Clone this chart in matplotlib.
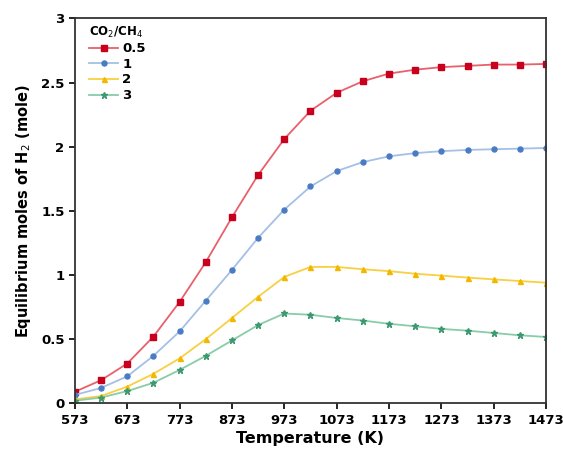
import numpy as np
import matplotlib.pyplot as plt

# 温度 (K)，每 50 K 一个点
temperature = [573, 623, 673, 723, 773, 823, 873, 923, 973, 1023,
               1073, 1123, 1173, 1223, 1273, 1323, 1373, 1423, 1473]

# CO2/CH4 比例对应的平衡 H2 摩尔数
h2_ratio_05 = [0.09, 0.18, 0.31, 0.52, 0.79, 1.10, 1.45, 1.78, 2.06, 2.28,
               2.42, 2.51, 2.57, 2.60, 2.62, 2.63, 2.64, 2.64, 2.645]
h2_ratio_1 = [0.065, 0.12, 0.21, 0.37, 0.56, 0.80, 1.04, 1.29, 1.51, 1.69,
              1.81, 1.88, 1.925, 1.95, 1.965, 1.975, 1.98, 1.985, 1.99]
h2_ratio_2 = [0.03, 0.057, 0.13, 0.23, 0.35, 0.50, 0.665, 0.83, 0.985, 1.063,
              1.063, 1.045, 1.03, 1.01, 0.995, 0.98, 0.966, 0.953, 0.94]
h2_ratio_3 = [0.02, 0.045, 0.095, 0.16, 0.26, 0.37, 0.49, 0.61, 0.70, 0.69,
              0.665, 0.645, 0.62, 0.60, 0.58, 0.566, 0.548, 0.53, 0.517]

series_labels = ["0.5", "1", "2", "3"]
x_ticks = np.arange(573, 1474, 100)
y_ticks = [0, 0.5, 1, 1.5, 2, 2.5, 3]

plt.rcParams['font.family'] = ['DejaVu Sans']

fig = plt.figure(figsize=(5.63, 4.55), dpi=100)
ax = fig.add_axes([0.133, 0.1136, 0.837, 0.846])

# 每条曲线：(数据, 线色, 标记色, 标记形状, 标记大小)
styles = [
    (h2_ratio_05, "#e8606c", "#c8001e", "s", 4.2),
    (h2_ratio_1, "#a4c0e6", "#4a7cc4", "o", 3.6),
    (h2_ratio_2, "#f8d040", "#f2b800", "^", 3.6),
    (h2_ratio_3, "#88ccaa", "#3c9a70", "*", 4.5),
]
for (ys, lc, mc, mk, ms), lab in zip(styles, series_labels):
    ax.plot(temperature, ys, color=lc, lw=1.3, marker=mk, ms=ms,
            mfc=mc, mec=mc, label=lab)

ax.set_xlim(573, 1473)
ax.set_ylim(0, 3)
ax.set_xticks(x_ticks)
ax.set_yticks(y_ticks)
ax.set_yticklabels(["0", "0.5", "1", "1.5", "2", "2.5", "3"])
ax.tick_params(direction="out", length=4, width=1.2, labelsize=9.5)
for lbl in ax.get_xticklabels() + ax.get_yticklabels():
    lbl.set_fontweight("bold")
for sp in ax.spines.values():
    sp.set_linewidth(1.3)
    sp.set_color("#333333")

ax.set_xlabel("Temperature (K)", fontsize=11.5, fontweight="bold", labelpad=3)
ax.set_ylabel("Equilibrium moles of H$_2$ (mole)", fontsize=10.5,
              fontweight="bold", labelpad=6)

leg = ax.legend(title="CO$_2$/CH$_4$", loc="upper left", frameon=False,
                fontsize=9.5, title_fontsize=8.5, handlelength=2.2,
                handletextpad=0.3, labelspacing=0.2,
                bbox_to_anchor=(0.005, 1.015))
leg._legend_box.align = "left"
for t in leg.get_texts():
    t.set_fontweight("bold")
leg.get_title().set_fontweight("bold")

fig.savefig("out.png", dpi=100)
